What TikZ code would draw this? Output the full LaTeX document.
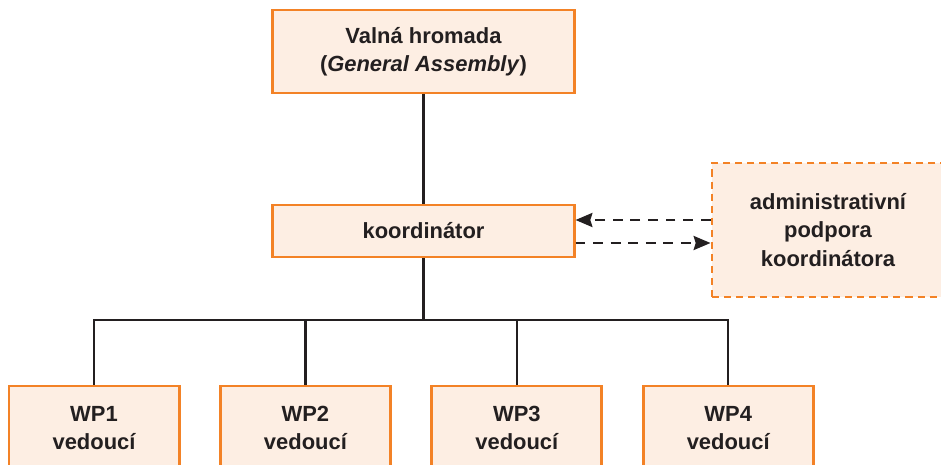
\documentclass[tikz,border=0pt]{standalone}
\usepackage{fontspec}
\setmainfont{Liberation Sans}
\usetikzlibrary{arrows.meta,positioning}
\definecolor{accent}{RGB}{243,130,38}
\definecolor{boxfill}{RGB}{253,238,227}
\definecolor{ink}{RGB}{35,31,32}

\begin{document}
\begin{tikzpicture}[x=0.025cm,y=-0.025cm,
    node distance=0.96cm,
    st/.style={rectangle,draw=accent,line width=2.1pt,fill=boxfill,text=ink,
               minimum width=7.525cm,minimum height=2.075cm,align=center,
               font=\bfseries\fontsize{15.6}{20}\selectfont},
    wp/.style={st,minimum width=4.25cm,minimum height=2.1cm},
    adm/.style={st,dash pattern=on 5pt off 3.6pt,minimum width=5.8cm,minimum height=3.35cm},
    ln/.style={ink,line width=1.8pt},
    ar/.style={ln,dash pattern=on 7pt off 5.5pt,-{Stealth[length=12pt,width=10pt,inset=1.5pt]}}]
    \useasboundingbox (0,0) rectangle (941,465);
    \node[st](gen) at (423.5,51.5){Valná hromada\\(\textit{General Assembly})};
    \node[st,minimum height=1.3cm](koord) at (423.5,231){koordinátor};
    \node[adm](adm) at (828,230){administrativní\\podpora\\koordinátora};
    \node[wp](wp1) at (94,428){WP1\\vedoucí};
    \node[wp,right=of wp1](wp2){WP2\\vedoucí};
    \node[wp,right=of wp2](wp3){WP3\\vedoucí};
    \node[wp,right=of wp3](wp4){WP4\\vedoucí};
    % stromova struktura
    \coordinate (bus) at (423.5,320);
    \draw[ln](gen)--(koord);
    \draw[ln](koord)--(bus);
    \draw[ln](wp1.north)|-(bus)-|(wp4.north);
    \draw[ln](wp2.north)--(wp2.north|-bus);\draw[ln](wp3.north)--(wp3.north|-bus);
    % administrativa
    \coordinate (up) at ([yshift=2.75mm]koord.east);
    \coordinate (dn) at ([yshift=-3mm]koord.east);
    \draw[ar](adm.west|-up)--(up);\draw[ar](dn)--(adm.west|-dn);
  \end{tikzpicture}
\end{document}
